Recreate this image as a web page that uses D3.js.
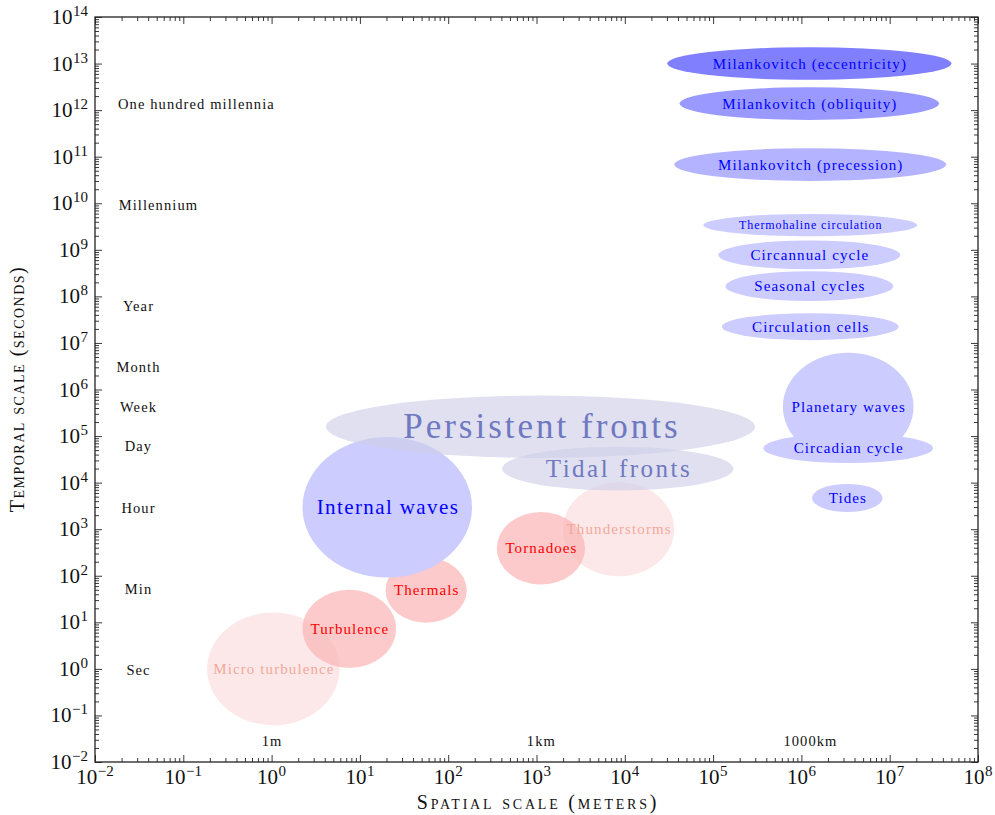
<!DOCTYPE html>
<html>
<head>
<meta charset="utf-8">
<script src="https://cdn.jsdelivr.net/npm/d3@7"></script>
<style>
  body { margin: 0; background: #fff; }
  svg { display: block; font-family: "Liberation Serif", "Times New Roman", serif; }
</style>
</head>
<body>
<svg id="chart" width="995" height="815"></svg>
<script>
// Phenomena: centre (log10 metres, log10 seconds) and half-extent in decades
const phenomena = ["Micro turbulence", "Turbulence", "Thermals", "Internal waves",
  "Thunderstorms", "Tornadoes", "Persistent fronts", "Tidal fronts",
  "Planetary waves", "Circadian cycle", "Tides", "Circulation cells",
  "Seasonal cycles", "Circannual cycle", "Thermohaline circulation",
  "Milankovitch (precession)", "Milankovitch (obliquity)", "Milankovitch (eccentricity)"];
const logSpace = [0.02, 0.88, 1.75, 1.31, 3.93, 3.05, 3.045, 3.92, 6.53, 6.53, 6.52, 6.10, 6.09, 6.09, 6.10, 6.10, 6.09, 6.09];
const logTime  = [0.0, 0.86, 1.69, 3.47, 3.0, 2.59, 5.20, 4.30, 5.63, 4.74, 3.67, 7.35, 8.22, 8.89, 9.53, 10.83, 12.14, 13.0];
const spreadSpace = [0.75, 0.53, 0.46, 0.96, 0.63, 0.50, 2.43, 1.31, 0.74, 0.96, 0.40, 1.0, 0.95, 1.03, 1.21, 1.54, 1.47, 1.61];
const spreadTime  = [1.21, 0.84, 0.70, 1.51, 1.01, 0.78, 0.67, 0.47, 1.16, 0.32, 0.30, 0.29, 0.32, 0.31, 0.24, 0.35, 0.35, 0.35];
// style group per phenomenon
const kind = ["faint", "red", "red", "wave", "faint", "red", "front", "front",
  "wave", "wave", "wave", "wave", "wave", "wave", "wave", "prec", "obl", "ecc"];
const labelSize = [15, 15, 15, 21, 15, 15, 35, 25, 15, 15, 15, 15, 15, 15, 12, 15, 15, 15];
const labelSpacing = [1.1, 1.1, 1.1, 1.4, 1.1, 1.1, 3, 2.5, 1.1, 1.1, 1.1, 1.1, 1.1, 1.1, 0.9, 1.1, 1.1, 1.1];

// Reference time names along the left
const timeNames = ["One hundred millennia", "Millennium", "Year", "Month", "Week", "Day", "Hour", "Min", "Sec"];
const timeAt    = [1.35e12, 9.1e9, 6.2e7, 3.0e6, 4.2e5, 6.2e4, 2850, 52, 0.95];
const timeX     = [0.139, 0.0516, 0.0307, 0.0307, 0.0307, 0.0307, 0.0307, 0.0307, 0.0307];

// Reference lengths along the bottom
const lengthNames = ["1m", "1km", "1000km"];
const lengthAt    = [1, 1122, 1.25e6];
const lengthY     = 0.028;

const xExponents = d3.range(-2, 9);
const yExponents = d3.range(-2, 15);

const styles = {
  faint: { fill: "rgb(251,224,224)", opacity: 0.75, text: "#f2a99c" },
  red:   { fill: "rgb(251,184,184)", opacity: 0.75, text: "#ff0000" },
  wave:  { fill: "#ccccff", opacity: 1, text: "#0000ff" },
  front: { fill: "rgb(206,206,231)", opacity: 0.63, text: "#6f78c0" },
  prec:  { fill: "#b3b3ff", opacity: 1, text: "#0000ff" },
  obl:   { fill: "#9999ff", opacity: 1, text: "#0000ff" },
  ecc:   { fill: "#8080ff", opacity: 1, text: "#0000ff" }
};

const L = 95, R = 978, T = 17, B = 762;
const x = d3.scaleLog().domain([1e-2, 1e8]).range([L, R]);
const y = d3.scaleLog().domain([1e-2, 1e14]).range([B, T]);

const svg = d3.select("#chart");

// Ellipses, drawn in list order
const ell = svg.append("g");
phenomena.forEach((name, i) => {
  const cx = x(Math.pow(10, logSpace[i]));
  const cy = y(Math.pow(10, logTime[i]));
  const rx = x(Math.pow(10, logSpace[i] + spreadSpace[i])) - cx;
  const ry = cy - y(Math.pow(10, logTime[i] + spreadTime[i]));
  const st = styles[kind[i]];
  ell.append("ellipse")
    .attr("cx", cx).attr("cy", cy).attr("rx", rx).attr("ry", ry)
    .attr("fill", st.fill).attr("fill-opacity", st.opacity);
});
// Labels on top
phenomena.forEach((name, i) => {
  const st = styles[kind[i]];
  ell.append("text")
    .attr("x", x(Math.pow(10, logSpace[i])) + labelSpacing[i] / 2)
    .attr("y", y(Math.pow(10, logTime[i])))
    .attr("text-anchor", "middle")
    .attr("dominant-baseline", "central")
    .attr("font-size", labelSize[i])
    .attr("letter-spacing", labelSpacing[i])
    .attr("fill", st.text)
    .text(name);
});

// Time references
timeNames.forEach((t, i) => {
  svg.append("text")
    .attr("x", x(timeX[i]) + 0.5).attr("y", y(timeAt[i]))
    .attr("text-anchor", "middle").attr("dominant-baseline", "central")
    .attr("font-size", 14.5).attr("letter-spacing", 1.1).attr("fill", "#111")
    .text(t);
});
lengthNames.forEach((t, i) => {
  svg.append("text")
    .attr("x", x(lengthAt[i]) + 0.5).attr("y", y(lengthY))
    .attr("text-anchor", "middle").attr("dominant-baseline", "central")
    .attr("font-size", 14.5).attr("letter-spacing", 1.1).attr("fill", "#111")
    .text(t);
});

// Axes with inward ticks on all four sides
function minorTicks(exps) {
  const out = [];
  for (let k = 0; k < exps.length - 1; k++)
    for (let m = 2; m <= 9; m++) out.push(m * Math.pow(10, exps[k]));
  return out;
}
const xMajor = xExponents.map(e => Math.pow(10, e));
const yMajor = yExponents.map(e => Math.pow(10, e));
const xMinor = minorTicks(xExponents);
const yMinor = minorTicks(yExponents);

function drawAxis(axisFn, scale, values, size, transform) {
  const g = svg.append("g").attr("transform", transform)
    .call(axisFn(scale).tickValues(values).tickSize(size).tickFormat(""));
  g.select(".domain").remove();
  g.selectAll("line").attr("stroke", "#222").attr("stroke-width", 0.9);
  return g;
}
drawAxis(d3.axisTop, x, xMajor, 7, `translate(0,${B})`);
drawAxis(d3.axisTop, x, xMinor, 4, `translate(0,${B})`);
drawAxis(d3.axisBottom, x, xMajor, 7, `translate(0,${T})`);
drawAxis(d3.axisBottom, x, xMinor, 4, `translate(0,${T})`);
drawAxis(d3.axisRight, y, yMajor, 7, `translate(${L},0)`);
drawAxis(d3.axisRight, y, yMinor, 4, `translate(${L},0)`);
drawAxis(d3.axisLeft, y, yMajor, 7, `translate(${R},0)`);
drawAxis(d3.axisLeft, y, yMinor, 4, `translate(${R},0)`);

svg.append("rect").attr("x", L).attr("y", T).attr("width", R - L).attr("height", B - T)
  .attr("fill", "none").attr("stroke", "#222").attr("stroke-width", 1.3);

// Tick labels 10^n
function powerLabel(sel, e) {
  sel.append("tspan").text("10");
  sel.append("tspan").attr("dy", -8).attr("dx", 0.5).attr("font-size", 15)
    .text(e < 0 ? "\u2212" + (-e) : String(e));
}
xExponents.forEach(e => {
  const t = svg.append("text")
    .attr("x", x(Math.pow(10, e))).attr("y", 784)
    .attr("text-anchor", "middle").attr("font-size", 21).attr("fill", "#111");
  powerLabel(t, e);
});
yExponents.forEach(e => {
  const t = svg.append("text")
    .attr("x", 88).attr("y", y(Math.pow(10, e)) + 7)
    .attr("text-anchor", "end").attr("font-size", 21).attr("fill", "#111");
  powerLabel(t, e);
});

// Axis titles
svg.append("text")
  .attr("x", 538).attr("y", 809)
  .attr("text-anchor", "middle").attr("font-size", 20)
  .attr("letter-spacing", 2.8)
  .attr("font-variant", "small-caps").attr("fill", "#111")
  .text("Spatial scale (meters)");
svg.append("text")
  .attr("transform", "translate(24,389) rotate(-90)")
  .attr("text-anchor", "middle").attr("font-size", 20)
  .attr("letter-spacing", 1.5)
  .attr("font-variant", "small-caps").attr("fill", "#111")
  .text("Temporal scale (seconds)");
</script>
</body>
</html>
